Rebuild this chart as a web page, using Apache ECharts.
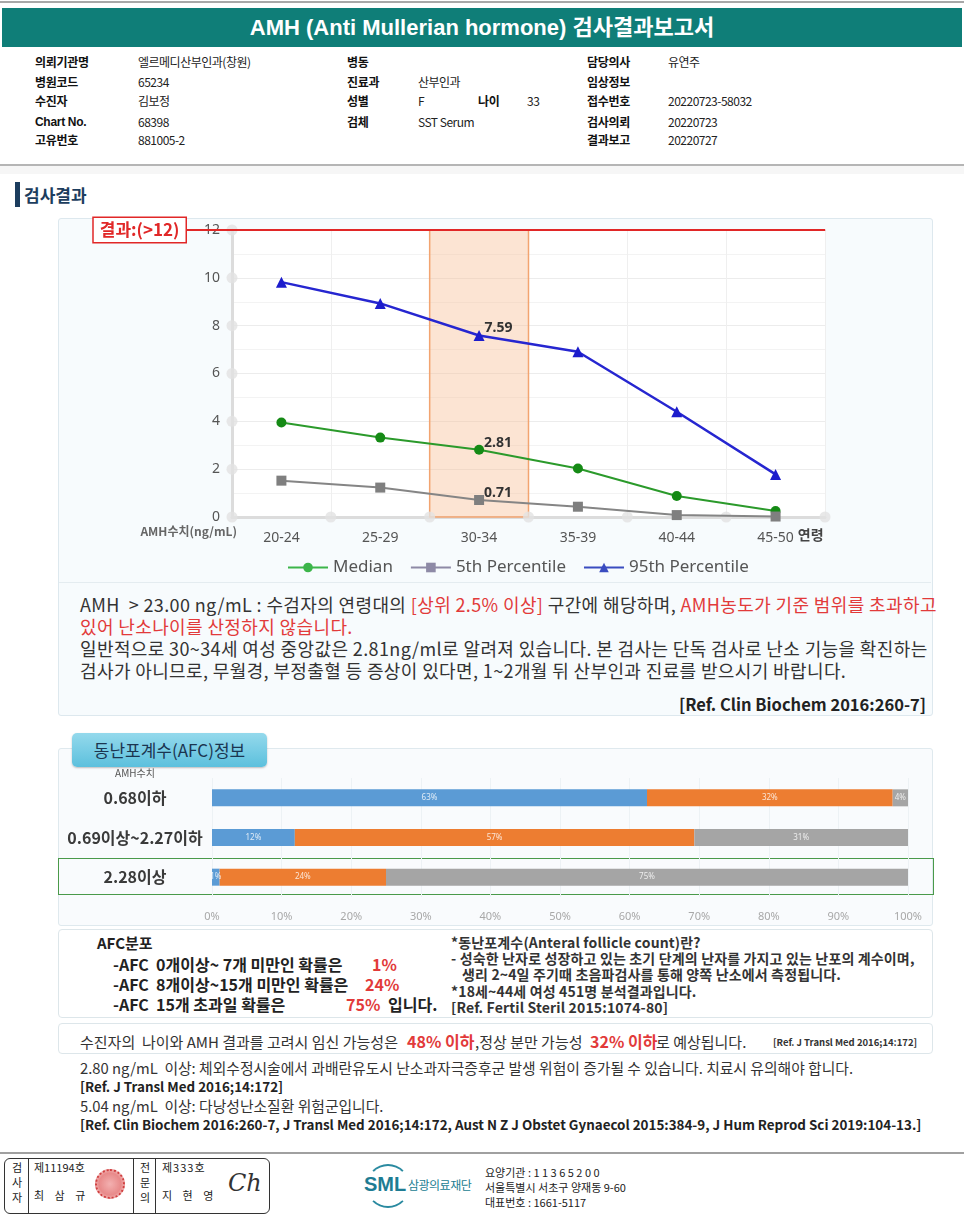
<!DOCTYPE html>
<html><head><meta charset="utf-8">
<script src="https://cdn.jsdelivr.net/npm/echarts@6/dist/echarts.min.js"></script>
<style>
html,body{margin:0;padding:0;background:#fff;}
body{width:964px;height:1223px;position:relative;overflow:hidden;font-family:'Noto Sans CJK KR','Noto Sans',sans-serif;color:#222;}
.a{position:absolute;white-space:nowrap;}
.hl{font-size:12px;font-weight:bold;line-height:16px;color:#111;letter-spacing:-0.3px;}
.hv{font-size:12px;line-height:16px;color:#222;letter-spacing:-0.5px;}
.p{font-size:18px;line-height:22px;color:#333;letter-spacing:0.38px;}
.b12{font-size:14px;font-weight:bold;line-height:16px;color:#333;letter-spacing:0.15px;}
.b14{font-size:16px;font-weight:bold;line-height:20px;color:#222;}
.n13{font-size:15px;line-height:18px;color:#333;letter-spacing:0px;}
.rf{font-size:13.4px;font-weight:bold;line-height:18px;color:#222;}
.f11{font-size:11px;line-height:14px;color:#222;}
.red{color:#e23a3a !important;}
#chart{position:absolute;left:0;top:0;width:964px;height:1223px;z-index:5;}
</style></head><body>

<!-- top header -->
<div class="a" style="left:0;top:1px;width:964px;height:2px;background:#a8a8a8;"></div>
<div class="a" style="left:2px;top:8px;width:960px;height:39px;background:#0f7e78;"></div>
<div class="a" style="left:2px;top:8px;width:960px;height:39px;line-height:39px;text-align:center;color:#fff;font-size:22px;font-weight:bold;font-family:'Liberation Sans','Noto Sans CJK KR',sans-serif;">AMH (Anti Mullerian hormone) 검사결과보고서</div>

<div class="a hl" style="left:35px;top:54px;">의뢰기관명</div><div class="a hv" style="left:138px;top:54px;">엘르메디산부인과(창원)</div>
<div class="a hl" style="left:35px;top:74px;">병원코드</div><div class="a hv" style="left:138px;top:74px;">65234</div>
<div class="a hl" style="left:35px;top:93px;">수진자</div><div class="a hv" style="left:138px;top:93px;">김보정</div>
<div class="a hl" style="left:35px;top:114px;font-family:'Liberation Sans',sans-serif;">Chart No.</div><div class="a hv" style="left:138px;top:114px;">68398</div>
<div class="a hl" style="left:35px;top:132px;">고유번호</div><div class="a hv" style="left:138px;top:132px;">881005-2</div>

<div class="a hl" style="left:347px;top:54px;">병동</div>
<div class="a hl" style="left:347px;top:74px;">진료과</div><div class="a hv" style="left:418px;top:74px;">산부인과</div>
<div class="a hl" style="left:347px;top:93px;">성별</div><div class="a hv" style="left:418px;top:93px;">F</div>
<div class="a hl" style="left:478px;top:93px;">나이</div><div class="a hv" style="left:527px;top:93px;">33</div>
<div class="a hl" style="left:347px;top:114px;">검체</div><div class="a hv" style="left:418px;top:114px;">SST Serum</div>

<div class="a hl" style="left:587px;top:54px;">담당의사</div><div class="a hv" style="left:668px;top:54px;">유연주</div>
<div class="a hl" style="left:587px;top:74px;">임상정보</div>
<div class="a hl" style="left:587px;top:93px;">접수번호</div><div class="a hv" style="left:668px;top:93px;">20220723-58032</div>
<div class="a hl" style="left:587px;top:114px;">검사의뢰</div><div class="a hv" style="left:668px;top:114px;">20220723</div>
<div class="a hl" style="left:587px;top:132px;">결과보고</div><div class="a hv" style="left:668px;top:132px;">20220727</div>

<div class="a" style="left:0;top:164px;width:964px;height:2px;background:#b5b5b5;"></div>
<div class="a" style="left:0;top:166px;width:964px;height:8px;background:#f6f6f6;"></div>

<!-- 검사결과 heading -->
<div class="a" style="left:15px;top:182px;width:5px;height:25px;background:#1c3d5e;"></div>
<div class="a" style="left:24px;top:183px;font-size:17px;font-weight:bold;line-height:24px;color:#1c3d5e;">검사결과</div>

<!-- line chart panel -->
<div class="a" style="left:58px;top:218px;width:873px;height:496px;border:1px solid #dde8ee;background:#f7fbfd;border-radius:3px;"></div>
<div class="a" style="left:59px;top:582px;width:872px;height:1px;background:#e4ecf0;"></div>
<div class="a p" style="left:80px;top:593px;">AMH &nbsp;&gt; 23.00 ng/mL : 수검자의 연령대의 <span class="red">[상위 2.5% 이상]</span> 구간에 해당하며, <span class="red">AMH농도가 기준 범위를 초과하고</span></div>
<div class="a p red" style="left:80px;top:615px;">있어 난소나이를 산정하지 않습니다.</div>
<div class="a p" style="left:80px;top:637px;">일반적으로 30~34세 여성 중앙값은 2.81ng/ml로 알려져 있습니다. 본 검사는 단독 검사로 난소 기능을 확진하는</div>
<div class="a p" style="left:80px;top:659px;">검사가 아니므로, 무월경, 부정출혈 등 증상이 있다면, 1~2개월 뒤 산부인과 진료를 받으시기 바랍니다.</div>
<div class="a" style="right:38px;top:693px;font-size:16.5px;font-weight:bold;line-height:22px;color:#222;">[Ref. Clin Biochem 2016:260-7]</div>

<!-- AFC panel -->
<div class="a" style="left:58px;top:748px;width:873px;height:176px;border:1px solid #dfe9ee;background:#f9fbfd;border-radius:3px;"></div>
<div class="a" style="left:72px;top:733px;width:195px;height:34px;border-radius:5px;background:linear-gradient(#94d9ec,#5cc0dd);box-shadow:0 1px 2px rgba(0,0,0,0.25);line-height:34px;text-align:center;font-size:17px;color:#1b3550;">동난포계수(AFC)정보</div>
<div class="a" style="left:58px;top:858px;width:874px;height:35px;border:1.5px solid #4a9a4a;"></div>

<!-- AFC 분포 box -->
<div class="a" style="left:58px;top:929px;width:873px;height:87px;border:1px solid #dde6ea;background:#fff;border-radius:4px;"></div>
<div class="a b14" style="left:97px;top:933px;font-size:15px;">AFC분포</div>
<div class="a b14" style="left:113px;top:954px;">-AFC &nbsp;0개이상~ 7개 미만인 확률은</div><div class="a b14 red" style="left:372px;top:954px;">1%</div>
<div class="a b14" style="left:113px;top:974px;">-AFC &nbsp;8개이상~15개 미만인 확률은</div><div class="a b14 red" style="left:365px;top:974px;">24%</div>
<div class="a b14" style="left:113px;top:994px;">-AFC &nbsp;15개 초과일 확률은</div><div class="a b14 red" style="left:346px;top:994px;">75%</div><div class="a b14" style="left:388px;top:994px;">입니다.</div>
<div class="a b12" style="left:451px;top:934px;">*동난포계수(Anteral follicle count)란?</div>
<div class="a b12" style="left:451px;top:950px;">- 성숙한 난자로 성장하고 있는 초기 단계의 난자를 가지고 있는 난포의 계수이며,</div>
<div class="a b12" style="left:462px;top:966px;">생리 2~4일 주기때 초음파검사를 통해 양쪽 난소에서 측정됩니다.</div>
<div class="a b12" style="left:451px;top:983px;">*18세~44세 여성 451명 분석결과입니다.</div>
<div class="a b12" style="left:451px;top:999px;">[Ref. Fertil Steril 2015:1074-80]</div>

<!-- pregnancy box -->
<div class="a" style="left:58px;top:1023px;width:873px;height:29px;border:1px solid #dde6ea;background:#fff;border-radius:4px;"></div>
<div class="a n13" style="left:80px;top:1033px;">수진자의 &nbsp;나이와 AMH 결과를 고려시 임신 가능성은</div>
<div class="a red" style="left:407px;top:1031px;font-size:16px;font-weight:bold;line-height:20px;">48% 이하</div>
<div class="a n13" style="left:475px;top:1033px;">,정상 분만 가능성</div>
<div class="a red" style="left:590px;top:1031px;font-size:16px;font-weight:bold;line-height:20px;">32% 이하</div>
<div class="a n13" style="left:656px;top:1033px;">로 예상됩니다.</div>
<div class="a" style="left:773px;top:1036px;font-size:9.5px;font-weight:bold;line-height:12px;color:#333;">[Ref. J Transl Med 2016;14:172]</div>

<!-- bottom notes -->
<div class="a n13" style="left:80px;top:1059px;font-size:14.8px;">2.80 ng/mL &nbsp;이상: 체외수정시술에서 과배란유도시 난소과자극증후군 발생 위험이 증가될 수 있습니다. 치료시 유의해야 합니다.</div>
<div class="a rf" style="left:80px;top:1077px;">[Ref. J Transl Med 2016;14:172]</div>
<div class="a n13" style="left:80px;top:1097px;font-size:14.8px;">5.04 ng/mL &nbsp;이상: 다낭성난소질환 위험군입니다.</div>
<div class="a rf" style="left:80px;top:1115px;">[Ref. Clin Biochem 2016:260-7, J Transl Med 2016;14:172, Aust N Z J Obstet Gynaecol 2015:384-9, J Hum Reprod Sci 2019:104-13.]</div>

<!-- footer -->
<div class="a" style="left:0;top:1152px;width:964px;height:2px;background:#a0a0a0;"></div>
<div class="a" style="left:4px;top:1158px;width:264px;height:54px;border:1px solid #333;border-radius:6px;"></div>
<div class="a" style="left:28px;top:1158px;width:1px;height:55px;background:#333;"></div>
<div class="a" style="left:133px;top:1158px;width:1px;height:55px;background:#333;"></div>
<div class="a" style="left:155px;top:1158px;width:1px;height:55px;background:#333;"></div>
<div class="a f11" style="left:8px;top:1160px;width:18px;text-align:center;line-height:15px;white-space:normal;">검<br>사<br>자</div>
<div class="a f11" style="left:136px;top:1160px;width:18px;text-align:center;line-height:15px;white-space:normal;">전<br>문<br>의</div>
<div class="a f11" style="left:34px;top:1160px;">제11194호</div>
<div class="a f11" style="left:34px;top:1188px;letter-spacing:4px;">최 삼 규</div>
<div class="a" style="left:95px;top:1169px;width:26px;height:26px;border-radius:50%;border:2px dotted #d04040;background:radial-gradient(#f3b0b0,#e88a8a 60%,#fbe0e0);"></div>
<div class="a f11" style="left:162px;top:1160px;letter-spacing:1px;">제333호</div>
<div class="a f11" style="left:162px;top:1188px;letter-spacing:4px;">지 현 영</div>
<div class="a" style="left:228px;top:1168px;font-size:24px;font-style:italic;font-family:'DejaVu Serif',serif;color:#333;line-height:30px;">Ch</div>

<div class="a" style="left:366px;top:1164px;width:40px;height:40px;border-radius:50%;border:2px solid #2a8aa0;border-left-color:transparent;border-right-color:transparent;"></div>
<div class="a" style="left:364px;top:1172px;font-size:20px;font-weight:bold;color:#1e7c93;line-height:24px;font-family:'Liberation Sans',sans-serif;">SML</div>
<div class="a" style="left:408px;top:1177px;font-size:12px;color:#227d92;line-height:16px;letter-spacing:-0.5px;">삼광의료재단</div>
<div class="a f11" style="left:485px;top:1165px;">요양기관 : 1 1 3 6 5 2 0 0</div>
<div class="a f11" style="left:485px;top:1180px;">서울특별시 서초구 양재동 9-60</div>
<div class="a f11" style="left:485px;top:1195px;">대표번호 : 1661-5117</div>

<div id="chart"></div>

<script>
// ---- AMH by age data ----
const ageGroups = ['20-24', '25-29', '30-34', '35-39', '40-44', '45-50'];
const median = [3.95, 3.32, 2.81, 2.03, 0.88, 0.25];
const p5 = [1.52, 1.23, 0.71, 0.43, 0.08, 0.02];
const p95 = [9.82, 8.93, 7.59, 6.91, 4.40, 1.78];
const patientGroup = '30-34';
const resultValue = 12;
const resultLabel = '결과:(>12)';
const yTicks = [0, 2, 4, 6, 8, 10, 12];
const bandEdges = [0, 1, 2, 3, 4, 5, 6];
const thresholdSpan = [0, 1];   // full width of the threshold track (hidden axis min..max)

// ---- AFC distribution data ----
const afcCats = ['0.68이하', '0.69이상~2.27이하', '2.28이상'];
const afcLow = [62.5, 11.9, 1.1];
const afcMid = [35.3, 57.4, 23.9];
const afcHigh = [2.2, 30.7, 75.0];
const afcLowLabels = ['63%', '12%', '1%'];
const afcMidLabels = ['32%', '57%', '24%'];
const afcHighLabels = ['4%', '31%', '75%'];

const FONT = "'Noto Sans','Noto Sans CJK KR',sans-serif";
const KFONT = "'Noto Sans CJK KR',sans-serif";
const hi = ageGroups.indexOf(patientGroup);
function mark(arr) {
  return arr.map((v, i) => i === hi ? { value: v, label: { show: true } } : v);
}
const valLabel = {
  show: false, position: 'right', distance: 0, offset: [0, -7],
  color: '#333', fontSize: 14, fontWeight: 'bold', fontFamily: FONT,
  formatter: p => p.value.toFixed(2)
};
const barLabel = arr => ({ show: true, position: 'inside', color: 'rgba(255,255,255,0.8)', fontSize: 8, formatter: p => arr[p.dataIndex] });

const chart = echarts.init(document.getElementById('chart'), null, { renderer: 'canvas' });
chart.setOption({
  backgroundColor: 'transparent',
  animation: false,
  textStyle: { fontFamily: FONT },
  grid: [
    { left: 232, top: 230, width: 593, height: 287, show: true, backgroundColor: '#ffffff', borderWidth: 0 },
    { left: 212, top: 778, width: 696, height: 119 },
    { left: 186, top: 230, width: 639, height: 287 }
  ],
  legend: {
    data: [
      { name: 'Median', itemStyle: { color: '#3cb54a' }, lineStyle: { color: '#3cb54a' } },
      { name: '5th Percentile', itemStyle: { color: '#8e8aa6' }, lineStyle: { color: '#8e8aa6' } },
      { name: '95th Percentile', itemStyle: { color: '#3a4cc0' }, lineStyle: { color: '#3a4cc0' } }
    ],
    left: 282, top: 554, itemWidth: 40, itemHeight: 12, itemGap: 17,
    textStyle: { fontSize: 17, color: '#555', fontFamily: FONT }
  },
  xAxis: [
    {
      type: 'category', gridIndex: 0, data: ageGroups, boundaryGap: true,
      axisLine: { lineStyle: { color: '#dcdcdc', width: 3 } },
      axisTick: { show: false },
      axisLabel: { color: '#555', fontSize: 14, margin: 14, fontFamily: FONT },
      splitLine: { show: true, lineStyle: { color: '#efefef' } },
      name: '연령', nameLocation: 'end', nameGap: -28,
      nameTextStyle: { color: '#444', fontSize: 14, fontWeight: 'bold', verticalAlign: 'top', padding: [11, 0, 0, 0], fontFamily: KFONT }
    },
    { type: 'value', gridIndex: 0, min: 0, max: 6, show: false },
    {
      type: 'value', gridIndex: 1, min: 0, max: 100, interval: 10,
      axisLine: { show: false }, axisTick: { show: false },
      axisLabel: { formatter: '{value}%', color: '#a8a8a8', fontSize: 11, margin: 14 },
      splitLine: { show: true, lineStyle: { color: '#edf2f5' } }
    },
    { type: 'value', gridIndex: 2, min: 0, max: 1, show: false }
  ],
  yAxis: [
    {
      type: 'value', gridIndex: 0, min: 0, max: 12, interval: 2,
      axisLine: { show: true, lineStyle: { color: '#dcdcdc', width: 3 } },
      axisTick: { show: false },
      axisLabel: { color: '#555', fontSize: 14, margin: 12, fontFamily: FONT },
      splitLine: { show: true, lineStyle: { color: '#ececec' } },
      minorTick: { show: false, splitNumber: 2 },
      minorSplitLine: { show: true, lineStyle: { color: '#f3f3f3' } },
      name: 'AMH수치(ng/mL)', nameLocation: 'start', nameGap: 8,
      nameTextStyle: { align: 'right', color: '#666', fontSize: 12, fontWeight: 'bold', padding: [0, -5, 0, 0], fontFamily: KFONT }
    },
    {
      type: 'category', gridIndex: 1, data: afcCats, inverse: true,
      axisLine: { show: false }, axisTick: { show: false },
      axisLabel: { align: 'center', margin: 77, fontSize: 16, fontWeight: 'bold', color: '#3a3a3a', fontFamily: KFONT },
      name: 'AMH수치', nameLocation: 'start', nameGap: 0,
      nameTextStyle: { align: 'center', fontSize: 10, color: '#555', padding: [0, 154, 0, 0], fontFamily: KFONT }
    },
    { type: 'value', gridIndex: 2, min: 0, max: 12, show: false }
  ],
  series: [
    {
      name: 'tickDots', type: 'scatter', xAxisIndex: 1, yAxisIndex: 0, silent: true, z: 1,
      symbolSize: 11, itemStyle: { color: '#e2e2e2' },
      data: bandEdges.map(e => [e, 0]).concat(yTicks.slice(1).map(t => [0, t])),
      markArea: {
        silent: true,
        itemStyle: { color: 'rgba(248,196,158,0.45)', borderColor: '#f2a470', borderWidth: 1.5 },
        data: [[{ xAxis: bandEdges[hi] }, { xAxis: bandEdges[hi + 1] }]]
      }
    },
    {
      name: 'threshold', type: 'line', xAxisIndex: 3, yAxisIndex: 2, z: 6, silent: true, clip: false,
      symbol: 'circle', symbolSize: 1, showSymbol: true, showAllSymbol: true,
      itemStyle: { color: '#e12727' },
      lineStyle: { color: '#e12727', width: 2 },
      labelLayout: { hideOverlap: false },
      data: [
        {
          value: [thresholdSpan[0], resultValue],
          label: {
            show: true, position: 'left', distance: 0, formatter: resultLabel,
            color: '#e12727', fontSize: 17, fontWeight: 'bold', borderColor: '#e12727', borderWidth: 1.5,
            backgroundColor: '#fff', padding: [2, 6, 1, 6], lineHeight: 21, fontFamily: KFONT
          }
        },
        [thresholdSpan[1], resultValue]
      ]
    },
    {
      name: 'Median', type: 'line', xAxisIndex: 0, yAxisIndex: 0, z: 4,
      data: mark(median), symbol: 'circle', symbolSize: 10,
      itemStyle: { color: '#158a15' }, lineStyle: { color: '#2b9a2b', width: 2 },
      label: valLabel
    },
    {
      name: '5th Percentile', type: 'line', xAxisIndex: 0, yAxisIndex: 0, z: 4,
      data: mark(p5), symbol: 'rect', symbolSize: 10,
      itemStyle: { color: '#7f7f7f' }, lineStyle: { color: '#858585', width: 2 },
      label: valLabel
    },
    {
      name: '95th Percentile', type: 'line', xAxisIndex: 0, yAxisIndex: 0, z: 4,
      data: mark(p95), symbol: 'triangle', symbolSize: 11,
      itemStyle: { color: '#1c1ccc' }, lineStyle: { color: '#2626d0', width: 2.5 },
      label: valLabel
    },
    {
      name: 'AFC 0~7', type: 'bar', xAxisIndex: 2, yAxisIndex: 1, stack: 'afc', barWidth: 17,
      data: afcLow, itemStyle: { color: '#5b9bd5' }, label: barLabel(afcLowLabels)
    },
    {
      name: 'AFC 8~15', type: 'bar', xAxisIndex: 2, yAxisIndex: 1, stack: 'afc', barWidth: 17,
      data: afcMid, itemStyle: { color: '#ed7d31' }, label: barLabel(afcMidLabels)
    },
    {
      name: 'AFC >15', type: 'bar', xAxisIndex: 2, yAxisIndex: 1, stack: 'afc', barWidth: 17,
      data: afcHigh, itemStyle: { color: '#a5a5a5' }, label: barLabel(afcHighLabels)
    }
  ]
});
</script>
</body></html>
